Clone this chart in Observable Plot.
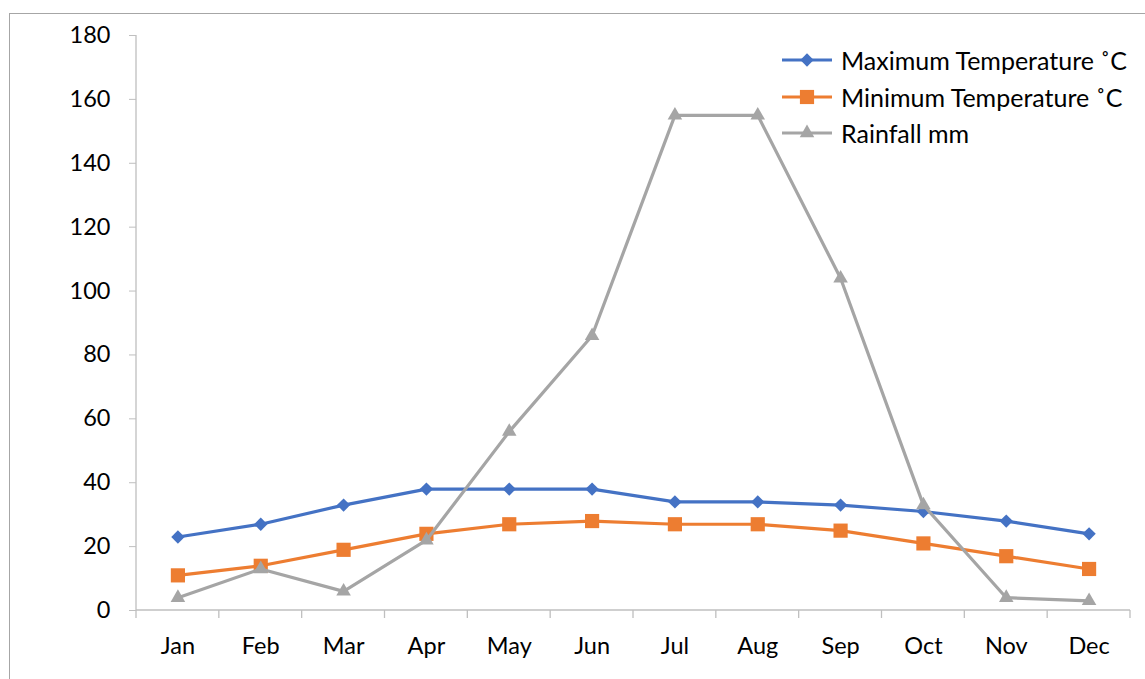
<!DOCTYPE html>
<html><head><meta charset="utf-8">
<script src="https://cdn.jsdelivr.net/npm/d3@7"></script>
<script src="https://cdn.jsdelivr.net/npm/@observablehq/plot@0.6"></script>
<style>
html,body{margin:0;padding:0;background:#fff;overflow:hidden}
#wrap{position:relative;width:1145px;height:679px}
#frame{position:absolute;left:9px;top:13px;width:1200px;height:720px;border:1px solid #a6a6a6;box-sizing:border-box;pointer-events:none}
#chart{position:absolute;left:0;top:0}
#legend{position:absolute;left:781px;top:42px;font-family:Lato,"Open Sans",sans-serif;font-size:25px;color:#000}
.row{display:flex;align-items:center;height:36.5px;white-space:nowrap}
.row svg{margin-right:8px}
</style>
</head><body>
<div id="wrap"><div id="frame"></div><div id="chart"></div><div id="legend"></div></div>
<script>
const months = ["Jan","Feb","Mar","Apr","May","Jun","Jul","Aug","Sep","Oct","Nov","Dec"];
const maxTemp = [23,27,33,38,38,38,34,34,33,31,28,24];
const minTemp = [11,14,19,24,27,28,27,27,25,21,17,13];
const rainfall = [4,13,6,22,56,86,155,155,104,33,4,3];
const seriesNames = ["Maximum Temperature ˚C","Minimum Temperature ˚C","Rainfall mm"];
const seriesColors = ["#4472C4","#ED7D31","#A5A5A5"];
const seriesSymbols = ["diamond2","square","triangle"];
const seriesR = [6.0,8.0,5.4];
const yTicks = [0,20,40,60,80,100,120,140,160,180];

const seriesValues = [maxTemp, minTemp, rainfall];
const data = seriesNames.map((name, s) => months.map((m, i) => ({month: m, value: seriesValues[s][i], series: name})));

function axisFrame(index, scales) {
  const x = scales.x, y = scales.y;
  const bw = typeof x.bandwidth === "function" ? x.bandwidth() : x.bandwidth;
  const x0 = x(months[0]), x1 = x(months[months.length-1]) + bw;
  const y0 = y(0), yTop = y(yTicks[yTicks.length-1]);
  const g = d3.create("svg:g").attr("stroke", "#bfbfbf").attr("stroke-width", 1.3);
  g.append("line").attr("x1", x0).attr("x2", x0).attr("y1", y0).attr("y2", yTop);
  g.append("line").attr("x1", x0).attr("x2", x1).attr("y1", y0).attr("y2", y0);
  const bounds = months.map(m => x(m)).concat([x1]);
  g.selectAll("line.b").data(bounds).join("line").attr("class","b")
    .attr("x1", d => d).attr("x2", d => d).attr("y1", y0).attr("y2", y0 + 8);
  return g.node();
}

const seriesMarks = data.flatMap((rows, s) => [
  Plot.line(rows, {x: "month", y: "value", stroke: seriesColors[s], strokeWidth: 3.2}),
  Plot.dot(rows, {x: "month", y: "value", symbol: seriesSymbols[s], fill: seriesColors[s], r: seriesR[s]})
]);

const chart = Plot.plot({
  width: 1145, height: 679,
  marginLeft: 136, marginRight: 15, marginTop: 35, marginBottom: 69,
  style: {fontFamily: "Lato, 'Open Sans', sans-serif", fontSize: "23.5px", color: "#000", background: "transparent", overflow: "visible"},
  x: {type: "band", domain: months, padding: 0, round: false},
  y: {domain: [0, 180]},
  marks: [
    axisFrame,
    Plot.axisY({ticks: yTicks, tickSize: 7, tickPadding: 19, stroke: "#bfbfbf", fill: "#000", tickFormat: d => d, label: null, fontSize: 23.5}),
    Plot.axisX({tickSize: 0, tickPadding: 27, fill: "#000", label: null, fontSize: 23.5}),
    ...seriesMarks
  ]
});
document.getElementById("chart").append(chart);

// legend
const legend = d3.select("#legend");
seriesNames.forEach((name, s) => {
  const row = legend.append("div").attr("class", "row");
  const svg = row.append("svg").attr("width", 52).attr("height", 20);
  svg.append("line").attr("x1", 1).attr("x2", 51).attr("y1", 10).attr("y2", 10)
    .attr("stroke", seriesColors[s]).attr("stroke-width", 3.2);
  svg.append("path").attr("transform", "translate(26,10)")
    .attr("d", d3.symbol([d3.symbolDiamond2, d3.symbolSquare, d3.symbolTriangle][s], Math.PI * seriesR[s] * seriesR[s])())
    .attr("fill", seriesColors[s]);
  row.append("span").text(name);
});
</script>
</body></html>
